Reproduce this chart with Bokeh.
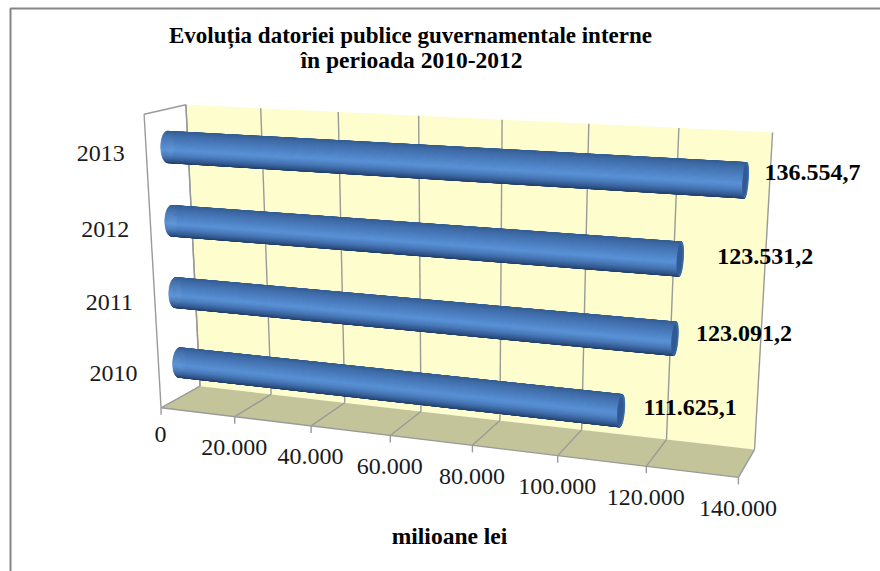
import numpy as np
from bokeh.core.properties import value
from bokeh.embed import file_html
from bokeh.models import ColumnDataSource, Range1d
from bokeh.plotting import figure
from bokeh.resources import INLINE

# chart content
title_lines = ["Evoluția datoriei publice guvernamentale interne", "în perioada 2010-2012"]
years = ["2010", "2011", "2012", "2013"]
debt = [111625.1, 123091.2, 123531.2, 136554.7]
ticks = [0, 20000, 40000, 60000, 80000, 100000, 120000, 140000]
tick_labels = ["0", "20.000", "40.000", "60.000", "80.000", "100.000", "120.000", "140.000"]
axis_title = "milioane lei"
axis_max = 140000

# value labels sit beside the bar ends, each nudged clear of its cap
label_shift = [(69, -3), (69, -5), (85, -3), (67, -8)]

WALL = "#fefdcd"
FLOOR = "#c4c49b"
GRID = "#9a9a9a"
SERIF = value("Liberation Serif")

# camera: a projective map from the unit box (value, depth, height) to the page
box_points = [
    ((0, 0, 0), (161, 407)), ((1, 0, 0), (738, 477)),
    ((0, 1, 0), (199, 386)), ((1, 1, 0), (754, 449)),
    ((0, 1, 1), (186, 104)), ((1, 1, 1), (772, 132)),
    ((0, 0, 1), (143, 114)),
]
rows = []
for (u, v, w), (x, y) in box_points:
    rows.append([u, v, w, 1, 0, 0, 0, 0, -x * u, -x * v, -x * w, -x])
    rows.append([0, 0, 0, 0, u, v, w, 1, -y * u, -y * v, -y * w, -y])
CAMERA = np.linalg.svd(np.array(rows, float))[2][-1].reshape(3, 4)


def project(u, v, w):
    h = CAMERA @ np.array([u, v, w, 1.0])
    return h[0] / h[2], h[1] / h[2]


p = figure(width=880, height=571, output_backend="svg", toolbar_location=None,
           x_range=Range1d(0, 880), y_range=Range1d(571, 0), min_border=0,
           background_fill_color="white", border_fill_color="white")
p.axis.visible = False
p.grid.visible = False
p.outline_line_color = None


def poly(points, **kw):
    p.patch([q[0] for q in points], [q[1] for q in points], **kw)


def seg(a, b, color=GRID, width=1.4):
    p.line([a[0], b[0]], [a[1], b[1]], line_color=color, line_width=width)


# picture frame: only its top and left sides are drawn
p.line([10, 10, 880], [571, 8, 8], line_color="#858585", line_width=2)

# walls and floor
poly([project(0, 1, 0), project(1, 1, 0), project(1, 1, 1), project(0, 1, 1)], fill_color=WALL, line_color=None)
poly([project(0, 0, 0), project(1, 0, 0), project(1, 1, 0), project(0, 1, 0)], fill_color=FLOOR, line_color=None)

# grid lines, floor rulings and axis ticks
for t in ticks:
    u = t / axis_max
    seg(project(u, 1, 0), project(u, 1, 1))
    seg(project(u, 0, 0), project(u, 1, 0))
    fx, fy = project(u, 0, 0)
    seg((fx, fy), (fx, fy + 7))
seg(project(0, 0, 0), project(1, 0, 0))
seg(project(0, 1, 0), project(0, 1, 1))
seg(project(0, 0, 0), project(0, 0, 1))
seg(project(0, 0, 1), project(0, 1, 1))

# cylinder shading, from the upper silhouette to the lower one
ramp_t = [-1.0, -0.75, -0.3, 0.2, 0.55, 0.85, 1.0]
ramp_rgb = np.array([[54, 94, 148], [64, 108, 168], [76, 126, 192], [90, 146, 214],
                     [72, 120, 184], [50, 88, 142], [36, 64, 106]], float)


def shade(t):
    c = [np.interp(t, ramp_t, ramp_rgb[:, i]) for i in range(3)]
    return "#%02x%02x%02x" % tuple(int(round(k)) for k in c)


R_DEPTH, R_HEIGHT = 0.16, 0.052
angles = np.linspace(0, 2 * np.pi, 97)


def section(u, w, a, scale=1.0):
    return project(u, 0.5 + scale * R_DEPTH * np.cos(a), w + scale * R_HEIGHT * np.sin(a))


# bars: painted as strips around the cylinder, far side first
for i in reversed(range(len(debt))):
    w = (i + 0.5) / len(debt)
    end = debt[i] / axis_max
    x0, y0 = project(0, 0.5, w)
    x1, y1 = project(end, 0.5, w)
    slope = (y1 - y0) / (x1 - x0)
    off = [section(0, w, a)[1] - y0 - slope * (section(0, w, a)[0] - x0) for a in angles]
    half = max(abs(o) for o in off)
    strips = []
    for k in range(len(angles) - 1):
        a0, a1 = angles[k], angles[k + 1]
        mid = (a0 + a1) / 2
        strips.append((np.cos(mid), a0, a1, (off[k] + off[k + 1]) / 2 / half))
    strips.sort(key=lambda s: -s[0])
    xs, ys, cols = [], [], []
    for _, a0, a1, t in strips:
        q = [section(0, w, a0), section(end, w, a0), section(end, w, a1), section(0, w, a1)]
        xs.append([c[0] for c in q])
        ys.append([c[1] for c in q])
        cols.append(shade(t))
    src = ColumnDataSource(dict(xs=xs, ys=ys, c=cols))
    p.patches("xs", "ys", source=src, fill_color="c", line_color="c", line_width=0.6)
    # end cap: a slightly lighter rim around a darker face
    rim = [section(end, w, a) for a in angles]
    poly(rim, fill_color="#3f6dab", line_color="#38639c", line_width=0.6)
    face = [section(end, w, a, 0.9) for a in angles]
    face = [(c[0] - 0.7, c[1]) for c in face]
    poly(face, fill_color="#2f5a94", line_color=None)


def label(x, y, text, size, bold=False, color="#000000"):
    p.text([x], [y], text=[text], text_font=SERIF, text_font_size=f"{size}px",
           text_font_style="bold" if bold else "normal", text_color=color,
           text_align="center", text_baseline="middle")


# title
label(410, 35, title_lines[0], 23, bold=True)
label(411, 59, title_lines[1], 23.5, bold=True)

# category labels, tied to the front edge of the left wall
for i, year in enumerate(years):
    fx, fy = project(0, 0, (i + 0.5) / len(years))
    label(fx - 45.5, fy + 1, year, 24, color="#1a1a1a")

# value axis labels
for t, text in zip(ticks, tick_labels):
    fx, fy = project(t / axis_max, 0, 0)
    label(fx - 0.5, fy + (27 if t == 0 else 31), text, 24, color="#1a1a1a")

label(449, 535, axis_title, 23.5, bold=True)

# value labels, formatted from the series itself
for i, v in enumerate(debt):
    x1, y1 = project(v / axis_max, 0.5, (i + 0.5) / len(debt))
    text = f"{v:,.1f}".replace(",", " ").replace(".", ",").replace(" ", ".")
    label(x1 + label_shift[i][0], y1 + label_shift[i][1], text, 24, bold=True)

open("out.html", "w").write(file_html(p, INLINE))
